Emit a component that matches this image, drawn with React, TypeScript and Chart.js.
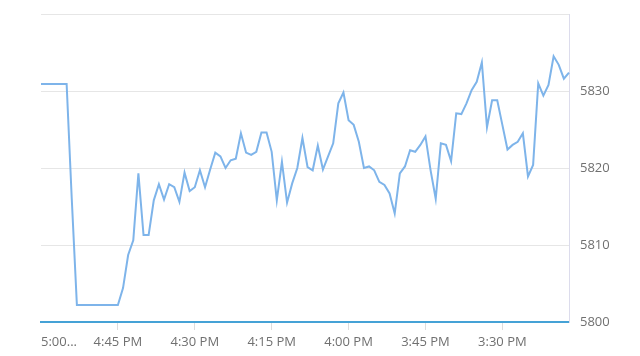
import React, { useEffect, useRef } from "react";
import { Chart, registerables } from "chart.js";

Chart.register(...registerables);

// One reading per minute, from 5:00 PM going back to 3:17 PM
const startMinute = 17 * 60; // 5:00 PM
const pointCount = 104;
const timeLabels: string[] = Array.from({ length: pointCount }, (_, i) => {
  const m = startMinute - i;
  const h = Math.floor(m / 60);
  const mm = m % 60;
  const h12 = h > 12 ? h - 12 : h;
  return `${h12}:${mm.toString().padStart(2, "0")} PM`;
});

const priceValues: number[] = [
  5830.9, 5830.9, 5830.9, 5830.9, 5830.9, 5830.9, 5816.0, 5802.2, 5802.2, 5802.2,
  5802.2, 5802.2, 5802.2, 5802.2, 5802.2, 5802.2, 5804.4, 5808.7, 5810.6, 5819.3,
  5811.3, 5811.3, 5815.8, 5817.9, 5815.9, 5817.9, 5817.5, 5815.6, 5819.4, 5817.0,
  5817.5, 5819.7, 5817.5, 5819.8, 5822.0, 5821.5, 5820.0, 5821.0, 5821.2, 5824.5,
  5822.0, 5821.7, 5822.1, 5824.6, 5824.6, 5822.1, 5815.8, 5820.8, 5815.5, 5818.0,
  5820.0, 5823.9, 5820.1, 5819.7, 5822.9, 5819.8, 5821.5, 5823.2, 5828.4, 5829.8,
  5826.2, 5825.6, 5823.4, 5820.0, 5820.2, 5819.7, 5818.2, 5817.8, 5816.7, 5814.1,
  5819.3, 5820.2, 5822.3, 5822.1, 5823.0, 5824.1, 5819.7, 5816.0, 5823.2, 5823.0,
  5820.9, 5827.1, 5827.0, 5828.4, 5830.1, 5831.2, 5833.7, 5825.3, 5828.8, 5828.8,
  5825.6, 5822.4, 5823.0, 5823.4, 5824.5, 5818.9, 5820.4, 5831.0, 5829.4, 5830.8,
  5834.5, 5833.4, 5831.6, 5832.4,
];

const tickIndices: number[] = [0, 15, 30, 45, 60, 75, 90];
const tickLabels: string[] = ["5:00...", "4:45 PM", "4:30 PM", "4:15 PM", "4:00 PM", "3:45 PM", "3:30 PM"];

const yMin = 5800;
const yMax = 5840;
const yStep = 10;

export default function App() {
  const ref = useRef<HTMLCanvasElement | null>(null);

  useEffect(() => {
    if (!ref.current) return;
    Chart.defaults.font.family = "'Open Sans', sans-serif";
    const chart = new Chart(ref.current, {
      type: "line",
      data: {
        labels: timeLabels,
        datasets: [
          {
            data: priceValues,
            borderColor: "#7eb4ea",
            borderWidth: 2,
            pointRadius: 0,
            tension: 0,
            fill: false,
          },
        ],
      },
      options: {
        animation: false,
        responsive: false,
        devicePixelRatio: 1,
        layout: { padding: { top: 6, left: 33, right: 0, bottom: 0 } },
        plugins: { legend: { display: false }, tooltip: { enabled: false } },
        scales: {
          x: {
            type: "category",
            offset: false,
            afterFit: (s: any) => {
              s.height = 26;
              s.paddingLeft = 0;
              s.paddingRight = 0;
            },
            grid: {
              drawOnChartArea: false,
              drawTicks: true,
              tickLength: 8,
              tickColor: (ctx: any) =>
                tickIndices.includes(ctx.index) && ctx.index !== 0 ? "#dddddd" : "rgba(0,0,0,0)",
            },
            border: { display: true, color: "#45a2d6", width: 2 },
            ticks: {
              autoSkip: false,
              maxRotation: 0,
              minRotation: 0,
              align: "inner",
              padding: 4,
              color: "#707070",
              font: { size: 13 },
              callback: (_v: any, i: number) => {
                const k = tickIndices.indexOf(i);
                return k >= 0 ? tickLabels[k] : "";
              },
            },
          },
          y: {
            position: "right",
            min: yMin,
            max: yMax,
            afterFit: (s: any) => {
              s.width = 63;
              s.paddingTop = 0;
              s.paddingBottom = 0;
            },
            grid: { color: "#e6e6e6", drawTicks: false },
            border: { display: true, color: "#dcdcec", width: 1 },
            ticks: {
              stepSize: yStep,
              padding: 11,
              color: "#707070",
              font: { size: 13 },
              callback: (v: any) => (v === yMax ? "" : String(v)),
            },
          },
        },
      },
    });
    return () => chart.destroy();
  }, []);

  return <canvas ref={ref} width={624} height={340} style={{ display: "block" }} />;
}
